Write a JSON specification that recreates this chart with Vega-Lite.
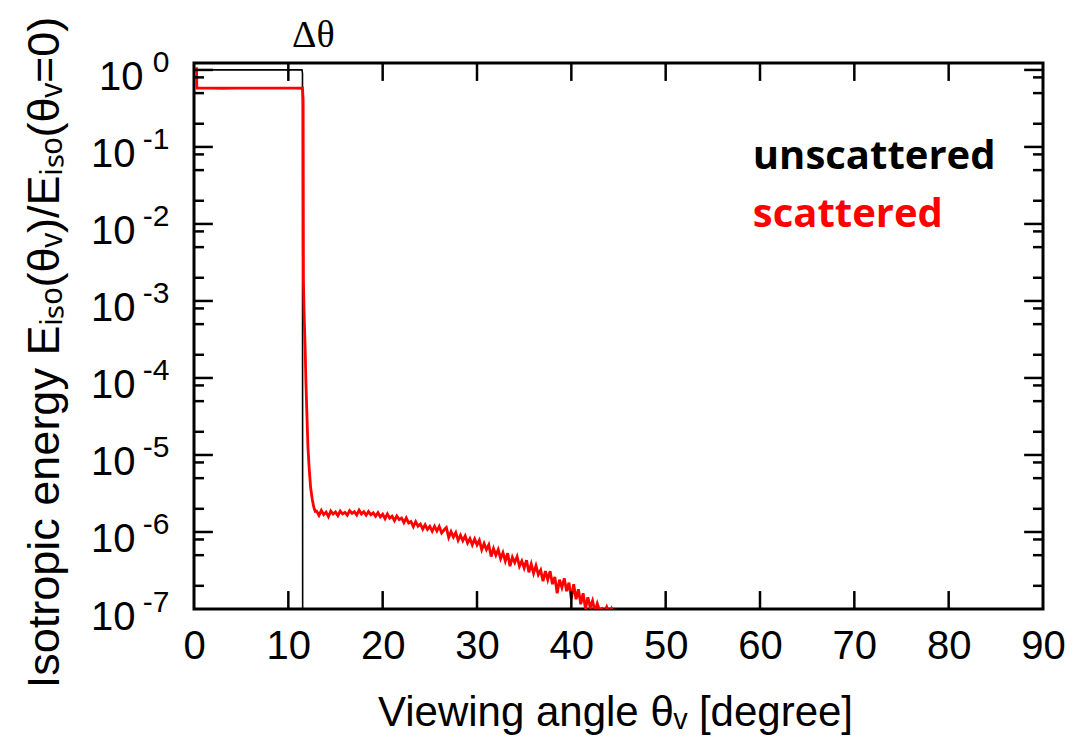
{
  "$schema": "https://vega.github.io/schema/vega-lite/v6.json",
  "width": 849,
  "height": 546,
  "autosize": {"type": "none"},
  "padding": {"left": 194, "top": 63, "right": 30, "bottom": 131},
  "background": "white",
  "config": {
    "view": {"stroke": "black", "strokeWidth": 3},
    "axis": {"grid": false, "domain": false, "ticks": false, "labelColor": "black", "titleColor": "black", "labelFont": "Liberation Sans", "titleFont": "Liberation Sans", "titleFontWeight": "normal", "labelFlush": false, "labelOverlap": false, "labelBound": false}
  },
  "datasets": {
    "unscattered": [
      {"theta": 0, "value": 1.0},
      {"theta": 11.45, "value": 1.0},
      {"theta": 11.5, "value": 0.9},
      {"theta": 11.52, "value": 1e-8}
    ],
    "scattered": [
      {"theta": 0.27, "value": 1.08},
      {"theta": 0.3, "value": 0.58},
      {"theta": 1.5, "value": 0.582},
      {"theta": 3.0, "value": 0.578},
      {"theta": 4.5, "value": 0.58},
      {"theta": 6.0, "value": 0.579},
      {"theta": 7.5, "value": 0.581},
      {"theta": 9.0, "value": 0.579},
      {"theta": 10.5, "value": 0.58},
      {"theta": 11.5, "value": 0.578},
      {"theta": 11.57, "value": 0.4},
      {"theta": 11.6, "value": 1.9e-3},
      {"theta": 11.67, "value": 7e-4},
      {"theta": 11.78, "value": 2.5e-4},
      {"theta": 11.86, "value": 9.3e-5},
      {"theta": 11.95, "value": 4e-5},
      {"theta": 12.08, "value": 1.26e-5},
      {"theta": 12.2, "value": 7e-6},
      {"theta": 12.36, "value": 3.8e-6},
      {"theta": 12.55, "value": 2.6e-6},
      {"theta": 12.7, "value": 2.1e-6},
      {"theta": 12.85, "value": 1.85e-6},
      {"theta": 13.0, "value": 1.87e-6},
      {"theta": 13.25, "value": 1.64e-6},
      {"theta": 13.5, "value": 1.91e-6},
      {"theta": 13.75, "value": 1.68e-6},
      {"theta": 14.0, "value": 1.81e-6},
      {"theta": 14.25, "value": 1.58e-6},
      {"theta": 14.5, "value": 1.87e-6},
      {"theta": 14.75, "value": 1.71e-6},
      {"theta": 15.0, "value": 1.82e-6},
      {"theta": 15.25, "value": 1.63e-6},
      {"theta": 15.5, "value": 1.87e-6},
      {"theta": 15.75, "value": 1.72e-6},
      {"theta": 16.0, "value": 1.8e-6},
      {"theta": 16.25, "value": 1.65e-6},
      {"theta": 16.5, "value": 1.89e-6},
      {"theta": 16.75, "value": 1.75e-6},
      {"theta": 17.0, "value": 1.84e-6},
      {"theta": 17.25, "value": 1.66e-6},
      {"theta": 17.5, "value": 1.92e-6},
      {"theta": 17.75, "value": 1.71e-6},
      {"theta": 18.0, "value": 1.83e-6},
      {"theta": 18.25, "value": 1.65e-6},
      {"theta": 18.5, "value": 1.84e-6},
      {"theta": 18.75, "value": 1.67e-6},
      {"theta": 19.0, "value": 1.77e-6},
      {"theta": 19.25, "value": 1.6e-6},
      {"theta": 19.5, "value": 1.78e-6},
      {"theta": 19.75, "value": 1.57e-6},
      {"theta": 20.0, "value": 1.7e-6},
      {"theta": 20.25, "value": 1.49e-6},
      {"theta": 20.5, "value": 1.71e-6},
      {"theta": 20.75, "value": 1.51e-6},
      {"theta": 21.0, "value": 1.6e-6},
      {"theta": 21.25, "value": 1.4e-6},
      {"theta": 21.5, "value": 1.61e-6},
      {"theta": 21.75, "value": 1.45e-6},
      {"theta": 22.0, "value": 1.52e-6},
      {"theta": 22.25, "value": 1.32e-6},
      {"theta": 22.5, "value": 1.52e-6},
      {"theta": 22.75, "value": 1.31e-6},
      {"theta": 23.0, "value": 1.37e-6},
      {"theta": 23.25, "value": 1.17e-6},
      {"theta": 23.5, "value": 1.36e-6},
      {"theta": 23.75, "value": 1.19e-6},
      {"theta": 24.0, "value": 1.27e-6},
      {"theta": 24.25, "value": 1.09e-6},
      {"theta": 24.5, "value": 1.24e-6},
      {"theta": 24.75, "value": 1.08e-6},
      {"theta": 25.0, "value": 1.18e-6},
      {"theta": 25.25, "value": 1.02e-6},
      {"theta": 25.5, "value": 1.19e-6},
      {"theta": 25.75, "value": 1.03e-6},
      {"theta": 26.0, "value": 1.18e-6},
      {"theta": 26.25, "value": 9.7e-7},
      {"theta": 26.5, "value": 1.06e-6},
      {"theta": 26.75, "value": 1.14e-6},
      {"theta": 27.0, "value": 8.5e-7},
      {"theta": 27.25, "value": 1.01e-6},
      {"theta": 27.5, "value": 8.6e-7},
      {"theta": 27.75, "value": 9.8e-7},
      {"theta": 28.0, "value": 7.8e-7},
      {"theta": 28.25, "value": 9.1e-7},
      {"theta": 28.5, "value": 7.7e-7},
      {"theta": 28.75, "value": 8.9e-7},
      {"theta": 29.0, "value": 7.2e-7},
      {"theta": 29.25, "value": 8.2e-7},
      {"theta": 29.5, "value": 6.8e-7},
      {"theta": 29.75, "value": 8.1e-7},
      {"theta": 30.0, "value": 6.8e-7},
      {"theta": 30.25, "value": 7.8e-7},
      {"theta": 30.5, "value": 5.9e-7},
      {"theta": 30.75, "value": 7.1e-7},
      {"theta": 31.0, "value": 5.9e-7},
      {"theta": 31.25, "value": 6.8e-7},
      {"theta": 31.5, "value": 4.8e-7},
      {"theta": 31.75, "value": 6.1e-7},
      {"theta": 32.0, "value": 5.0e-7},
      {"theta": 32.25, "value": 5.9e-7},
      {"theta": 32.5, "value": 4.5e-7},
      {"theta": 32.75, "value": 5.4e-7},
      {"theta": 33.0, "value": 4.2e-7},
      {"theta": 33.25, "value": 5.3e-7},
      {"theta": 33.5, "value": 3.6e-7},
      {"theta": 33.75, "value": 4.7e-7},
      {"theta": 34.0, "value": 4.0e-7},
      {"theta": 34.25, "value": 4.8e-7},
      {"theta": 34.5, "value": 3.6e-7},
      {"theta": 34.75, "value": 4.2e-7},
      {"theta": 35.0, "value": 3.4e-7},
      {"theta": 35.25, "value": 4.3e-7},
      {"theta": 35.5, "value": 3.0e-7},
      {"theta": 35.75, "value": 3.85e-7},
      {"theta": 36.0, "value": 2.9e-7},
      {"theta": 36.25, "value": 3.65e-7},
      {"theta": 36.5, "value": 2.8e-7},
      {"theta": 36.75, "value": 3.2e-7},
      {"theta": 37.0, "value": 2.3e-7},
      {"theta": 37.25, "value": 3.1e-7},
      {"theta": 37.5, "value": 2.4e-7},
      {"theta": 37.75, "value": 3.1e-7},
      {"theta": 38.0, "value": 2.1e-7},
      {"theta": 38.25, "value": 2.6e-7},
      {"theta": 38.5, "value": 1.6e-7},
      {"theta": 38.75, "value": 2.4e-7},
      {"theta": 39.0, "value": 1.9e-7},
      {"theta": 39.25, "value": 2.5e-7},
      {"theta": 39.5, "value": 1.7e-7},
      {"theta": 39.75, "value": 2.2e-7},
      {"theta": 40.0, "value": 1.35e-7},
      {"theta": 40.25, "value": 2.1e-7},
      {"theta": 40.5, "value": 1.34e-7},
      {"theta": 40.75, "value": 1.8e-7},
      {"theta": 41.0, "value": 1.15e-7},
      {"theta": 41.25, "value": 1.6e-7},
      {"theta": 41.5, "value": 1.0e-7},
      {"theta": 41.75, "value": 1.42e-7},
      {"theta": 42.0, "value": 1.05e-7},
      {"theta": 42.25, "value": 1.28e-7},
      {"theta": 42.5, "value": 9.2e-8},
      {"theta": 42.75, "value": 1.18e-7},
      {"theta": 43.0, "value": 9.5e-8},
      {"theta": 43.25, "value": 1.01e-7},
      {"theta": 43.5, "value": 9.0e-8},
      {"theta": 43.75, "value": 1.06e-7},
      {"theta": 44.0, "value": 8.8e-8},
      {"theta": 44.25, "value": 1.01e-7},
      {"theta": 44.5, "value": 8.5e-8},
      {"theta": 44.75, "value": 8.0e-8},
      {"theta": 45.0, "value": 6.0e-8}
    ],
    "legendText": [
      {"theta": 59.24, "value": 0.0741, "label": "unscattered", "series": "unscattered"},
      {"theta": 59.24, "value": 0.0131, "label": "scattered", "series": "scattered"}
    ],
    "annot": [
      {"theta": 12.65, "value": 2.0, "label": "Δθ"}
    ],
    "xTicks": [
      {"theta": 10}, {"theta": 20}, {"theta": 30}, {"theta": 40}, {"theta": 50}, {"theta": 60}, {"theta": 70}, {"theta": 80}
    ],
    "yMajor": [
      {"value": 1e-6}, {"value": 1e-5}, {"value": 1e-4}, {"value": 1e-3}, {"value": 1e-2}, {"value": 1e-1}, {"value": 1}
    ],
    "yMinor": [
      {"value": 2e-7}, {"value": 5e-7}, {"value": 8e-7},
      {"value": 2e-6}, {"value": 5e-6}, {"value": 8e-6},
      {"value": 2e-5}, {"value": 5e-5}, {"value": 8e-5},
      {"value": 2e-4}, {"value": 5e-4}, {"value": 8e-4},
      {"value": 2e-3}, {"value": 5e-3}, {"value": 8e-3},
      {"value": 2e-2}, {"value": 5e-2}, {"value": 8e-2},
      {"value": 2e-1}, {"value": 5e-1}, {"value": 8e-1}
    ]
  },
  "layer": [
    {
      "data": {"name": "unscattered"},
      "mark": {"type": "line", "color": "black", "strokeWidth": 1.6, "clip": true},
      "encoding": {
        "x": {
          "field": "theta", "type": "quantitative",
          "scale": {"domain": [0, 90], "nice": false, "zero": false},
          "axis": {
            "orient": "bottom", "values": [0, 10, 20, 30, 40, 50, 60, 70, 80, 90],
            "labelFontSize": 40, "labelPadding": 17, "labelBaseline": "top",
            "title": "Viewing angle θᵥ [degree]", "titleFontSize": 42,
            "titleX": 421, "titleY": 103, "titleAlign": "center", "titleBaseline": "middle", "titleAnchor": null
          }
        },
        "y": {
          "field": "value", "type": "quantitative",
          "scale": {"type": "log", "domain": [1e-7, 1.23], "nice": false},
          "axis": {
            "orient": "left", "values": [1e-7, 1e-6, 1e-5, 1e-4, 1e-3, 1e-2, 1e-1, 1],
            "labelExpr": "'10'", "labelFontSize": 40,
            "labelAlign": "right", "labelBaseline": "alphabetic", "labelOffset": 20,
            "labelPadding": {"condition": {"test": "datum.value > 0.5", "value": 51}, "value": 59},
            "title": "Isotropic energy Eᵢₛₒ(θᵥ)/Eᵢₛₒ(θᵥ=0)", "titleFontSize": 45,
            "titleAngle": -90, "titleX": -150, "titleY": 289, "titleAlign": "center", "titleBaseline": "middle", "titleAnchor": null
          }
        }
      }
    },
    {
      "data": {"name": "scattered"},
      "mark": {"type": "line", "color": "#ff0000", "strokeWidth": 2.8, "clip": true},
      "encoding": {
        "x": {
          "field": "theta", "type": "quantitative",
          "scale": {"domain": [0, 90], "nice": false, "zero": false},
          "axis": null
        },
        "y": {
          "field": "value", "type": "quantitative",
          "scale": {"type": "log", "domain": [1e-7, 1.23], "nice": false},
          "axis": {
            "orient": "left", "values": [1e-7, 1e-6, 1e-5, 1e-4, 1e-3, 1e-2, 1e-1, 1],
            "labelExpr": "'' + round(log(datum.value)/LN10)", "labelFontSize": 30,
            "labelAlign": "right", "labelBaseline": "alphabetic", "labelOffset": 2, "labelPadding": 25,
            "title": null
          }
        }
      }
    },
    {
      "data": {"name": "xTicks"},
      "mark": {"type": "rule", "color": "black", "strokeWidth": 2.5},
      "encoding": {
        "x": {"field": "theta", "type": "quantitative", "scale": {"domain": [0, 90], "nice": false, "zero": false}, "axis": null},
        "y": {"datum": 1e-7, "type": "quantitative", "scale": {"type": "log", "domain": [1e-7, 1.23], "nice": false}, "axis": null},
        "y2": {"datum": 1.71e-7}
      }
    },
    {
      "data": {"name": "xTicks"},
      "mark": {"type": "rule", "color": "black", "strokeWidth": 2.5},
      "encoding": {
        "x": {"field": "theta", "type": "quantitative", "scale": {"domain": [0, 90], "nice": false, "zero": false}, "axis": null},
        "y": {"datum": 1.23, "type": "quantitative", "scale": {"type": "log", "domain": [1e-7, 1.23], "nice": false}, "axis": null},
        "y2": {"datum": 0.72}
      }
    },
    {
      "data": {"name": "yMajor"},
      "mark": {"type": "rule", "color": "black", "strokeWidth": 2.5},
      "encoding": {
        "x": {"datum": 0, "type": "quantitative", "scale": {"domain": [0, 90], "nice": false, "zero": false}, "axis": null},
        "x2": {"datum": 2.0},
        "y": {"field": "value", "type": "quantitative", "scale": {"type": "log", "domain": [1e-7, 1.23], "nice": false}, "axis": null}
      }
    },
    {
      "data": {"name": "yMajor"},
      "mark": {"type": "rule", "color": "black", "strokeWidth": 2.5},
      "encoding": {
        "x": {"datum": 90, "type": "quantitative", "scale": {"domain": [0, 90], "nice": false, "zero": false}, "axis": null},
        "x2": {"datum": 88.0},
        "y": {"field": "value", "type": "quantitative", "scale": {"type": "log", "domain": [1e-7, 1.23], "nice": false}, "axis": null}
      }
    },
    {
      "data": {"name": "yMinor"},
      "mark": {"type": "rule", "color": "black", "strokeWidth": 2.5},
      "encoding": {
        "x": {"datum": 0, "type": "quantitative", "scale": {"domain": [0, 90], "nice": false, "zero": false}, "axis": null},
        "x2": {"datum": 1.06},
        "y": {"field": "value", "type": "quantitative", "scale": {"type": "log", "domain": [1e-7, 1.23], "nice": false}, "axis": null}
      }
    },
    {
      "data": {"name": "yMinor"},
      "mark": {"type": "rule", "color": "black", "strokeWidth": 2.5},
      "encoding": {
        "x": {"datum": 90, "type": "quantitative", "scale": {"domain": [0, 90], "nice": false, "zero": false}, "axis": null},
        "x2": {"datum": 88.94},
        "y": {"field": "value", "type": "quantitative", "scale": {"type": "log", "domain": [1e-7, 1.23], "nice": false}, "axis": null}
      }
    },
    {
      "data": {"name": "legendText"},
      "mark": {"type": "text", "font": "Open Sans", "fontWeight": "bold", "fontSize": 40, "align": "left", "baseline": "middle"},
      "encoding": {
        "x": {"field": "theta", "type": "quantitative", "scale": {"domain": [0, 90], "nice": false, "zero": false}, "axis": null},
        "y": {"field": "value", "type": "quantitative", "scale": {"type": "log", "domain": [1e-7, 1.23], "nice": false}, "axis": null},
        "text": {"field": "label"},
        "color": {"field": "series", "type": "nominal", "scale": {"domain": ["unscattered", "scattered"], "range": ["black", "#ff0000"]}, "legend": null}
      }
    },
    {
      "data": {"name": "annot"},
      "mark": {"type": "text", "font": "Liberation Serif", "fontSize": 38, "align": "center", "baseline": "alphabetic", "color": "black"},
      "encoding": {
        "x": {"field": "theta", "type": "quantitative", "scale": {"domain": [0, 90], "nice": false, "zero": false}, "axis": null},
        "y": {"field": "value", "type": "quantitative", "scale": {"type": "log", "domain": [1e-7, 1.23], "nice": false}, "axis": null},
        "text": {"field": "label"}
      }
    }
  ],
  "resolve": {"scale": {"x": "shared", "y": "shared", "color": "independent"}, "axis": {"x": "independent", "y": "independent"}}
}
